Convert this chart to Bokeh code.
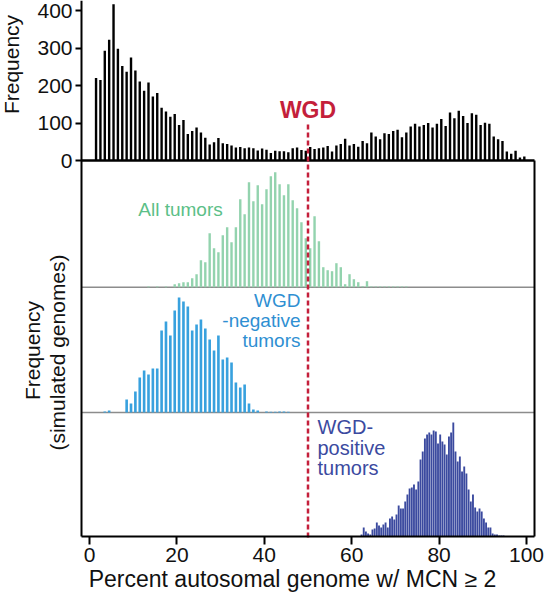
import numpy as np
from bokeh.plotting import figure
from bokeh.models import Range1d, FixedTicker, Label
from bokeh.embed import file_html
from bokeh.resources import INLINE

# ---------------- data ----------------
# Top panel: observed tumours, 1%-wide bins
top_centers = list(np.arange(1.5, 100.0, 1.0))
top_counts = [220, 215, 293, 322, 417, 298, 252, 237, 275, 240, 211, 186, 208, 171, 180,
              141, 131, 117, 124, 95, 108, 71, 79, 88, 75, 61, 43, 49, 60, 46, 44, 40, 35,
              36, 33, 35, 33, 27, 32, 29, 20, 26, 25, 25, 22, 33, 35, 28, 26,
              36, 31, 33, 35, 39, 24, 40, 44, 58, 40, 44, 37, 52, 46, 75, 64, 57, 73, 71,
              79, 82, 62, 75, 91, 98, 91, 95, 100, 88, 98, 111, 92, 128, 113, 133, 119, 100,
              126, 122, 95, 101, 98, 64, 57, 52, 24, 18, 26, 8, 11]

# Simulated genomes - all tumours
all_centers = list(np.arange(13.5, 73.0, 1.0))
all_freq = [0.7, 0, 0.7, 0, 0.7, 0, 3, 4, 5, 5, 9, 13, 27, 25, 54, 39, 35, 52, 60, 45, 60,
            88, 73, 105, 86, 102, 83, 98, 111, 115, 103, 92, 103, 87, 79, 65, 49, 39, 71,
            46, 20, 17, 16, 24, 20, 3, 13, 8, 5, 1, 6, 0.7, 0.7, 0.7, 0.7, 0.7, 0.7, 0.7,
            0.7, 0.7]

# Simulated genomes - WGD-negative tumours
neg_centers = list(np.arange(3.5, 46.0, 1.0))
neg_freq = [1, 2, 0, 0, 0, 13, 9, 21, 35, 42, 38, 44, 44, 82, 91, 77, 102, 115, 111, 106,
            82, 88, 93, 84, 73, 62, 77, 53, 55, 50, 30, 25, 28, 9, 3, 2, 0, 1, 0.7, 0.7, 1,
            1, 0.7]

# Simulated genomes - WGD-positive tumours (0.5%-wide bins)
pos_centers = list(np.arange(62.25, 95.0, 0.5))
pos_freq = [2, 9, 5, 3, 2, 7, 8, 14, 11, 9, 12, 14, 9, 18, 20, 17, 22, 31, 28, 28,
            35, 42, 48, 49, 52, 47, 55, 77, 85, 98, 102, 104, 102, 106, 105, 93, 102, 95, 92, 82,
            100, 104, 114, 85, 75, 80, 65, 70, 63, 47, 35, 42, 29, 25, 28, 25, 18, 14, 9, 9,
            3, 2, 2, 1, 1, 1]

x_ticks = [0, 20, 40, 60, 80, 100]
y_ticks = [0, 100, 200, 300, 400]
wgd_threshold = 50

# ---------------- layout (canvas pixel geometry) ----------------
FONT = "Liberation Sans"
W, H = 546, 600
X0_IMG, XS = 89.0, 4.37            # canvas x of value 0, px per unit
BASE_TOP_IMG, YS = 160.0, 0.375    # canvas y of count 0 (top panel), px per count
AX_L, AX_R, AX_B = 81.0, 534.0, 536.0
BASE1, BASE2, BASE3 = 286.7, 412.0, 536.0


def xv(px):
    return (px - X0_IMG) / XS


def cnt(py):
    return (BASE_TOP_IMG - py) / YS


def panel_range(base):
    return Range1d(base - H, base)


p = figure(width=W, height=H, output_backend="svg", toolbar_location=None,
           x_range=Range1d(xv(0), xv(W)), y_range=Range1d(cnt(H), cnt(0)),
           min_border=0, min_border_left=0, min_border_right=0,
           min_border_top=0, min_border_bottom=0)
p.extra_y_ranges = {"p1": panel_range(BASE1), "p2": panel_range(BASE2), "p3": panel_range(BASE3)}

p.outline_line_color = None
p.xgrid.visible = False
p.ygrid.visible = False
p.background_fill_color = "white"
p.border_fill_color = "white"

# axes, placed at fixed locations inside the canvas
x_left, x_border = xv(AX_L), xv(AX_R)
y_bottom = cnt(AX_B)
for ax in (p.xaxis[0], p.yaxis[0]):
    ax.axis_line_width = 2
    ax.axis_line_color = "black"
    ax.major_tick_line_width = 2
    ax.major_tick_line_color = "black"
    ax.major_tick_in = 0
    ax.minor_tick_line_color = None
    ax.major_label_text_font = FONT
    ax.major_label_text_color = "#111111"
p.xaxis.ticker = FixedTicker(ticks=x_ticks)
p.xaxis.fixed_location = y_bottom
p.xaxis.bounds = (x_left, x_border)
p.xaxis.major_tick_out = 8
p.xaxis.major_label_standoff = 3
p.xaxis.major_label_text_font_size = "21px"
p.yaxis.ticker = FixedTicker(ticks=y_ticks)
p.yaxis.fixed_location = x_left
p.yaxis.bounds = (y_bottom, cnt(0))
p.yaxis.major_tick_out = 6
p.yaxis.major_label_standoff = 3
p.yaxis.major_label_text_font_size = "21px"

# panel dividers
p.segment(x0=[x_left], x1=[x_border], y0=[0], y1=[0], y_range_name="p1",
          line_color="#8c8c8c", line_width=1.5)
p.segment(x0=[x_left], x1=[x_border], y0=[0], y1=[0], y_range_name="p2",
          line_color="#8c8c8c", line_width=1.5)

# bars
p.vbar(x=top_centers, top=top_counts, bottom=0, width=0.55, fill_color="black", line_color=None)
p.vbar(x=all_centers, top=all_freq, bottom=0, width=0.55, fill_color="#93d3ae",
       line_color=None, y_range_name="p1")
p.vbar(x=neg_centers, top=neg_freq, bottom=0, width=0.6, fill_color="#38a1de",
       line_color=None, y_range_name="p2")
p.vbar(x=pos_centers, top=pos_freq, bottom=0, width=0.43, fill_color="#3b4a9f",
       line_color=None, y_range_name="p3")

# top-panel baseline and right border of the lower panels
p.segment(x0=[x_left], x1=[x_border], y0=[0], y1=[0], line_color="black", line_width=2.5)
p.segment(x0=[x_border], x1=[x_border], y0=[0], y1=[y_bottom], line_color="black", line_width=2)

# WGD threshold line
p.segment(x0=[wgd_threshold], x1=[wgd_threshold], y0=[cnt(124)], y1=[cnt(538)],
          line_color="#c41f3b", line_width=2.5, line_dash="5 3")


def lab(text, x, y, size, color="#111111", align="center", angle=0.0, bold=False, yr="default"):
    p.add_layout(Label(x=x, y=y, text=text, text_font=FONT, text_font_size=size,
                       text_color=color, text_align=align, text_baseline="middle",
                       angle=angle, y_range_name=yr,
                       text_font_style="bold" if bold else "normal"))


lab("WGD", wgd_threshold, cnt(109), "23px", color="#c41f3b", bold=True)
lab("All tumors", xv(180), BASE1 - 209, "19px", color="#5cbf88", yr="p1")
for t, yy in (("WGD", 300), ("-negative", 320), ("tumors", 340)):
    lab(t, xv(300), BASE2 - yy, "19px", color="#2f8fd2", align="right", yr="p2")
for t, yy in (("WGD-", 426), ("positive", 447), ("tumors", 467)):
    lab(t, xv(317), BASE3 - yy, "20px", color="#3b4a9f", align="left", yr="p3")

lab("Frequency", xv(11), cnt(64), "21px", angle=np.pi / 2)
lab("Frequency", xv(32), cnt(350), "21px", angle=np.pi / 2)
lab("(simulated genomes)", xv(57), cnt(352), "21px", angle=np.pi / 2)
lab("Percent autosomal genome w/ MCN \u2265 2", xv(292), cnt(578), "23px")

open("out.html", "w").write(file_html(p, INLINE))
